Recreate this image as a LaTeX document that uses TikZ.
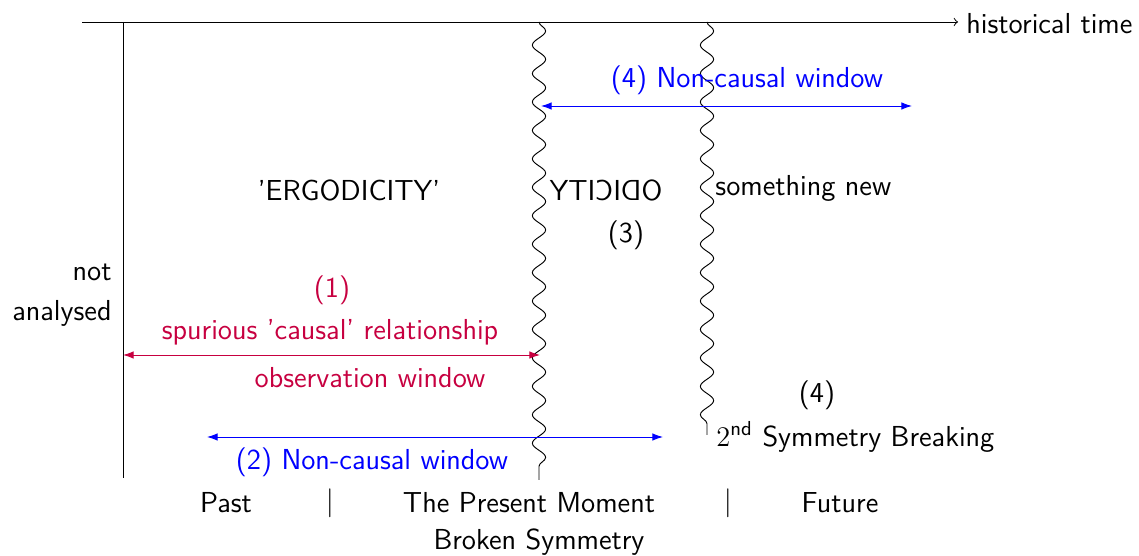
\documentclass[tikz,border=0pt]{standalone}
\usetikzlibrary{decorations.pathmorphing,arrows.meta}
\definecolor{crim}{rgb}{0.78,0,0.25}
\begin{document}
\begin{tikzpicture}[x=0.422pt,y=-0.422pt,font=\fontsize{12.2}{14.6}\selectfont\sffamily,
  lbl/.style={inner sep=0pt,anchor=center},
  wav/.style={decorate,decoration={snake,amplitude=2.8pt,segment length=12pt}},
  dbl/.style={{Latex[length=4.5pt,width=3.2pt]}-{Latex[length=4.5pt,width=3.2pt]}},
  ]
\useasboundingbox (0,0) rectangle (1139,556);
% axes
\coordinate (ts) at (82,22);
\coordinate (te) at (958,22);
\draw[-to] (ts) -- (te);
\node[anchor=west,inner sep=0pt] (ht) at (966,24) {historical time};
\coordinate (vt) at (123,22);
\coordinate (vb) at (123,478);
\draw (vt) -- (vb);
% wavy lines
\coordinate (w1t) at (539,22);
\coordinate (w1b) at (539,480);
\draw[wav] (w1t) -- (w1b);
\coordinate (w2t) at (707,22);
\coordinate (w2b) at (707,435);
\draw[wav] (w2t) -- (w2b);
% (4) top non-causal window
\coordinate (a4l) at (541,106);
\coordinate (a4r) at (912,106);
\draw[blue,dbl] (a4l) -- (a4r);
\node[lbl,blue] (l4) at (747,80) {(4) Non-causal window};
% middle texts
\node[lbl] (erg) at (349,190) {'ERGODICITY'};
\node[lbl,xscale=-1] (odi) at (606,190) {ODICITY};
\node[lbl] (n3) at (626,235) {(3)};
\node[anchor=west,inner sep=0pt] (new) at (715,188) {something new};
\node[anchor=east,inner sep=0pt] (na1) at (112,272) {not};
\node[anchor=east,inner sep=0pt] (na2) at (112,313) {analysed};
% (1)
\node[lbl,crim] (n1) at (332,290) {(1)};
\node[lbl,crim] (spur) at (330,332) {spurious 'causal' relationship};
\coordinate (a1l) at (123,355);
\coordinate (a1r) at (540,355);
\draw[crim,dbl] (a1l) -- (a1r);
\node[lbl,crim] (obs) at (370,378) {observation window};
% (2)
\coordinate (a2l) at (207,437);
\coordinate (a2r) at (663,437);
\draw[blue,dbl] (a2l) -- (a2r);
\node[lbl,blue] (l2) at (372,462) {(2) Non-causal window};
% (4) symmetry breaking
\node[lbl] (n4) at (817,395) {(4)};
\node[anchor=west,inner sep=0pt] (sb) at (716,437) {$2$\textsuperscript{nd} Symmetry Breaking};
% bottom
\node[lbl] (past) at (226,503) {Past};
\node[lbl] (bar1) at (330,503) {|};
\node[lbl] (pres) at (529,503) {The Present Moment};
\node[lbl] (bar2) at (728,503) {|};
\node[lbl] (fut) at (840,503) {Future};
\node[lbl] (brk) at (539,542) {Broken Symmetry};
\end{tikzpicture}
\end{document}
